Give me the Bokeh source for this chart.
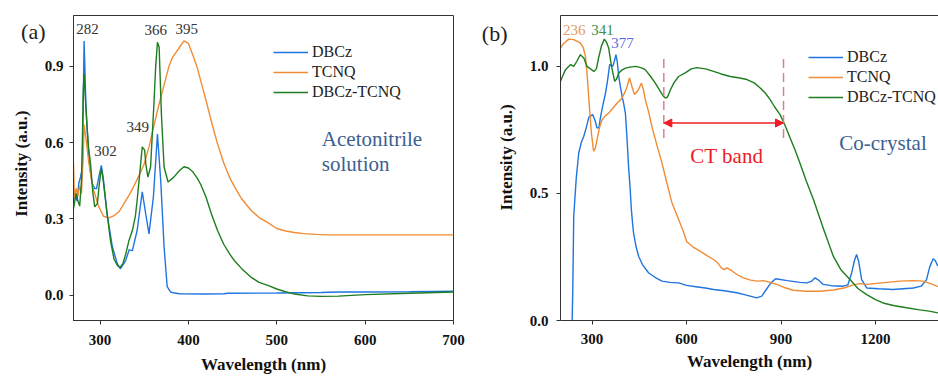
from bokeh.plotting import figure
from bokeh.layouts import row
from bokeh.models import (Legend, LegendItem, Label, FixedTicker, LinearAxis, CustomJSTickFormatter,
                          Range1d, Arrow, NormalHead, PrintfTickFormatter)
from bokeh.embed import file_html
from bokeh.resources import INLINE

# ---------------- data: panel (a) acetonitrile solution ----------------
wl_a_dbcz = [270, 272, 274, 276, 278, 280, 281, 282, 283, 284, 286, 288, 291, 294, 296, 299, 301.5, 304, 308, 314,
             319.6, 323, 329, 333, 336.6, 342, 347.8, 351.7, 355.4, 360.4, 365, 368.7, 372.5, 376, 380, 384, 390,
             420, 440, 445, 500, 550, 570, 600, 650, 700]
dbcz_a = [0.37, 0.40, 0.37, 0.44, 0.465, 0.50, 0.75, 1.0, 0.88, 0.75, 0.62, 0.52, 0.44, 0.42, 0.418, 0.47, 0.51, 0.45, 0.32, 0.19,
          0.123, 0.103, 0.136, 0.178, 0.175, 0.254, 0.406, 0.32, 0.241, 0.386, 0.634, 0.45, 0.19, 0.033, 0.012, 0.008, 0.005,
          0.004, 0.005, 0.007, 0.008, 0.010, 0.012, 0.012, 0.013, 0.015]

wl_a_tcnq = [270, 271, 273, 275, 277, 279, 281, 282, 284, 287, 290, 293, 298.7, 304, 310, 316, 322, 327, 334, 338, 344,
             350, 356, 361, 366, 372, 378, 382, 386, 390, 395, 400, 405, 410, 415, 420, 427, 433, 440, 447, 452,
             460, 471, 480, 490, 500, 510, 520, 530, 545, 560, 600, 650, 700]
tcnq_a = [0.52, 0.38, 0.42, 0.39, 0.43, 0.40, 0.55, 0.67, 0.62, 0.53, 0.46, 0.41, 0.347, 0.31, 0.304, 0.313, 0.33, 0.359, 0.40, 0.426, 0.47,
          0.516, 0.59, 0.667, 0.74, 0.82, 0.90, 0.935, 0.955, 0.975, 1.0, 0.99, 0.945, 0.895, 0.83, 0.765, 0.67, 0.595, 0.52, 0.46, 0.428,
          0.38, 0.333, 0.305, 0.285, 0.262, 0.252, 0.246, 0.242, 0.239, 0.237, 0.237, 0.237, 0.237]

wl_a_mix = [270, 273, 275, 277, 279, 280, 281, 282, 283, 285, 287, 289.3, 292, 294, 297, 299, 301.4, 303, 305, 308, 312,
            316, 320, 323, 326, 329, 332.8, 336.6, 340, 342, 345, 347.8, 350.5, 352, 354.2, 357.2, 361, 363, 365, 366.9,
            369.5, 372.5, 377, 383.8, 390, 395, 400, 405, 410, 414, 420, 426, 433, 440, 447, 452, 460, 471, 480, 490,
            500, 509, 520, 535, 550, 570, 600, 650, 700]
mix_a = [0.34, 0.40, 0.37, 0.35, 0.45, 0.60, 0.80, 0.87, 0.80, 0.68, 0.58, 0.516, 0.40, 0.347, 0.36, 0.43, 0.497, 0.47, 0.41, 0.32, 0.21,
         0.14, 0.115, 0.11, 0.125, 0.16, 0.215, 0.254, 0.31, 0.372, 0.48, 0.583, 0.57, 0.51, 0.464, 0.504, 0.752, 0.90, 0.995, 0.975,
         0.71, 0.504, 0.445, 0.465, 0.49, 0.505, 0.50, 0.485, 0.46, 0.435, 0.385, 0.32, 0.254, 0.20, 0.16, 0.136, 0.105, 0.07, 0.05, 0.038,
         0.024, 0.014, 0.004, -0.003, -0.005, -0.004, 0.002, 0.007, 0.012]

peaks_a = ["282", "302", "349", "366", "395"]
peaks_a_x = [285.9, 306.3, 342.6, 363, 398.2]
peaks_a_y = [1.047, 0.567, 0.662, 1.043, 1.047]

# ---------------- data: panel (b) co-crystal ----------------
wl_b_dbcz = [237, 239, 242, 250, 258, 266, 274, 282, 290, 302, 309, 316, 322, 327, 335, 343, 350, 356, 361, 366,
             371, 376, 380, 385, 390, 396, 401, 406, 411, 416, 421, 425, 429, 432, 440, 448, 460, 480, 500, 522,
             548, 575, 600, 630, 660, 686, 720, 760, 790, 823, 839, 852, 868, 883, 920, 960, 982, 998, 1008, 1018,
             1034, 1060, 1098, 1112, 1125, 1133, 1140, 1147, 1156, 1172, 1210, 1256, 1320, 1345, 1362, 1372, 1383,
             1390, 1398]
dbcz_b = [0.0, 0.12, 0.41, 0.56, 0.66, 0.70, 0.725, 0.76, 0.80, 0.81, 0.79, 0.757, 0.76, 0.80, 0.85, 0.895, 0.95, 1.007, 1.005, 1.0,
          1.02, 1.046, 1.02, 0.96, 0.92, 0.88, 0.85, 0.816, 0.72, 0.607, 0.52, 0.436, 0.38, 0.344, 0.29, 0.253, 0.22, 0.187, 0.17, 0.155,
          0.15, 0.148, 0.138, 0.133, 0.128, 0.122, 0.117, 0.109, 0.10, 0.089, 0.096, 0.12, 0.148, 0.164, 0.157, 0.15, 0.148, 0.155, 0.168, 0.16,
          0.142, 0.137, 0.135, 0.14, 0.19, 0.235, 0.26, 0.23, 0.161, 0.128, 0.125, 0.122, 0.128, 0.135, 0.161, 0.21, 0.243,
          0.235, 0.214]

wl_b_tcnq = [200, 210, 226, 242, 263, 272, 279, 285, 290, 298, 305, 310, 316, 324, 332, 342, 353, 366, 380, 392,
             401, 410, 419, 427, 435, 446, 457, 463, 469, 480, 490, 506, 522, 538, 554, 575, 590, 601, 620, 644,
             665, 686, 700, 712, 720, 728, 745, 760, 780, 804, 825, 844, 865, 886, 910, 939, 980, 1024, 1066, 1100,
             1129, 1150, 1172, 1220, 1277, 1320, 1351, 1375, 1398]
tcnq_b = [1.072, 1.09, 1.107, 1.105, 1.092, 1.075, 1.04, 0.96, 0.87, 0.738, 0.666, 0.675, 0.712, 0.76, 0.79, 0.805, 0.816, 0.835, 0.856, 0.87,
          0.889, 0.915, 0.954, 0.92, 0.889, 0.905, 0.934, 0.91, 0.87, 0.82, 0.764, 0.69, 0.62, 0.54, 0.462, 0.397, 0.35, 0.31, 0.29, 0.272,
          0.255, 0.24, 0.225, 0.205, 0.2, 0.207, 0.195, 0.181, 0.168, 0.159, 0.155, 0.157, 0.15, 0.142, 0.13, 0.119, 0.115, 0.115, 0.12, 0.128,
          0.14, 0.145, 0.142, 0.148, 0.155, 0.157, 0.155, 0.145, 0.133]

wl_b_mix = [200, 208, 216, 232, 242, 252, 263, 274, 284, 295, 306, 314, 321, 330, 339, 346, 353, 362, 372, 378,
            385, 395, 406, 420, 438, 455, 469, 485, 501, 515, 527, 533, 540, 549, 560, 575, 596, 615, 633, 660,
            686, 710, 739, 765, 792, 815, 834, 850, 865, 880, 897, 912, 929, 945, 960, 980, 1003, 1013, 1035, 1066,
            1090, 1119, 1145, 1172, 1200, 1224, 1260, 1299, 1340, 1370, 1398]
mix_b = [0.941, 0.965, 0.987, 1.007, 1.0, 1.02, 1.046, 1.033, 1.0, 0.99, 0.98, 0.99, 1.033, 1.08, 1.107, 1.095, 1.072, 1.0, 0.941, 0.95,
         0.974, 0.985, 0.993, 0.997, 1.0, 0.995, 0.987, 0.962, 0.934, 0.905, 0.882, 0.875, 0.88, 0.908, 0.935, 0.96, 0.974, 0.99, 0.995, 0.99,
         0.98, 0.97, 0.96, 0.955, 0.948, 0.935, 0.915, 0.895, 0.87, 0.84, 0.81, 0.77, 0.718, 0.67, 0.62, 0.55, 0.476, 0.44, 0.36, 0.253,
         0.2, 0.161, 0.125, 0.102, 0.082, 0.069, 0.058, 0.05, 0.042, 0.037, 0.03]

peaks_b = ["236", "341", "377"]
peaks_b_x = [244, 333, 396.5]
peaks_b_y = [1.142, 1.142, 1.09]

ct_band = [528, 908]      # CT band edges (nm)
ct_dash_y = [0.718, 1.04]
ct_arrow_y = 0.777

series_names = ["DBCz", "TCNQ", "DBCz-TCNQ"]
x_title = "Wavelength (nm)"
y_title = "Intensity (a.u.)"

# ---------------- style ----------------
FONT = "Liberation Serif"
BLUE = "#1f74e0"
ORANGE = "#f08c35"
GREEN = "#1e7d1e"
AX = "#333333"
NOTE = "#3c6090"
NBSP = "\u00a0"


def style_axes(p, xticks, yticks, xstand, ystand, xtitle_stand):
    p.xgrid.grid_line_color = None
    p.ygrid.grid_line_color = None
    for ax in (p.xaxis[0], p.yaxis[0]):
        ax.axis_line_color = AX
        ax.major_tick_line_color = AX
        ax.major_tick_out = 4
        ax.major_tick_in = 0
        ax.minor_tick_line_color = None
        ax.major_label_text_font = FONT
        ax.major_label_text_font_size = "15px"
        ax.major_label_text_font_style = "bold"
        ax.major_label_text_color = "#111111"
        ax.axis_label_text_font = FONT
        ax.axis_label_text_font_size = "17px"
        ax.axis_label_text_font_style = "bold"
        ax.axis_label_text_color = "#111111"
    p.xaxis[0].ticker = FixedTicker(ticks=xticks)
    p.yaxis[0].ticker = FixedTicker(ticks=yticks)
    p.yaxis[0].formatter = PrintfTickFormatter(format="%.1f")
    p.xaxis[0].formatter = PrintfTickFormatter(format="%d")
    p.xaxis[0].major_label_standoff = xstand
    p.yaxis[0].major_label_standoff = ystand
    p.xaxis[0].axis_label = x_title
    p.xaxis[0].axis_label_standoff = xtitle_stand


def add_outer_left(p, tick_y, tag, tag_stand, title_stand, pad):
    # outer left axis: carries the panel tag "(a)/(b)" and the y title
    ax = LinearAxis(ticker=FixedTicker(ticks=[tick_y]),
                    formatter=CustomJSTickFormatter(code="return '%s'" % tag),
                    axis_line_color=None, major_tick_line_color=None, minor_tick_line_color=None,
                    major_tick_out=0, major_tick_in=0,
                    major_label_text_font=FONT, major_label_text_font_size="22px",
                    major_label_text_color="#222222", major_label_standoff=tag_stand,
                    axis_label=NBSP * pad + y_title, axis_label_standoff=title_stand,
                    axis_label_text_font=FONT, axis_label_text_font_size="17px",
                    axis_label_text_font_style="bold", axis_label_text_color="#111111")
    p.add_layout(ax, "left")


def add_legend(p, renderers, loc):
    items = [LegendItem(label=n, renderers=[r]) for n, r in zip(series_names, renderers)]
    lg = Legend(items=items, location=loc, label_text_font=FONT, label_text_font_size="16px",
                label_text_color="#222222", glyph_width=35, glyph_height=20, label_height=20,
                label_standoff=4, spacing=0, padding=0, margin=0,
                border_line_color=None, background_fill_alpha=0)
    p.add_layout(lg)


# ---------------- panel (a) ----------------
pa = figure(width=470, height=376, x_range=Range1d(270, 700), y_range=Range1d(-0.1, 1.1),
            output_backend="svg", toolbar_location=None,
            min_border_left=73, min_border_right=17, min_border_top=15, min_border_bottom=55)
pa.outline_line_color = AX
pa.outline_line_alpha = 1
style_axes(pa, [300, 400, 500, 600, 700], [0.0, 0.3, 0.6, 0.9], 10, 6, 7)
add_outer_left(pa, 1.039, "(a)", -4, -13, 2)

ra1 = pa.line(wl_a_dbcz, dbcz_a, line_color=BLUE, line_width=1.4)
ra2 = pa.line(wl_a_tcnq, tcnq_a, line_color=ORANGE, line_width=1.4)
ra3 = pa.line(wl_a_mix, mix_a, line_color=GREEN, line_width=1.4)
add_legend(pa, [ra1, ra2, ra3], (200, 218))

for t, x, y in zip(peaks_a, peaks_a_x, peaks_a_y):
    pa.add_layout(Label(x=x, y=y, text=t, text_font=FONT, text_font_size="15px", text_color="#333333",
                        text_align="center", text_baseline="middle"))
pa.add_layout(Label(x=551, y=0.614, text="Acetonitrile", text_font=FONT, text_font_size="21px",
                    text_color=NOTE, text_align="left", text_baseline="middle"))
pa.add_layout(Label(x=551, y=0.516, text="solution", text_font=FONT, text_font_size="21px",
                    text_color=NOTE, text_align="left", text_baseline="middle"))

# ---------------- panel (b) ----------------
pb = figure(width=468, height=376, x_range=Range1d(200, 1400), y_range=Range1d(0, 1.2),
            output_backend="svg", toolbar_location=None,
            min_border_left=90, min_border_right=0, min_border_top=15, min_border_bottom=55)
pb.outline_line_color = None
style_axes(pb, [300, 600, 900, 1200], [0.0, 0.5, 1.0], 9, 8, 5)
add_outer_left(pb, 1.13, "(b)", 19, -37, 5)
top = LinearAxis(ticker=FixedTicker(ticks=[]), axis_line_color=AX, major_tick_line_color=None,
                 minor_tick_line_color=None, major_label_text_font_size="0px")
pb.add_layout(top, "above")

rb1 = pb.line(wl_b_dbcz, dbcz_b, line_color=BLUE, line_width=1.4)
rb2 = pb.line(wl_b_tcnq, tcnq_b, line_color=ORANGE, line_width=1.4)
rb3 = pb.line(wl_b_mix, mix_b, line_color=GREEN, line_width=1.4)
add_legend(pb, [rb1, rb2, rb3], (248, 213))

for xc in ct_band:
    pb.line([xc, xc], ct_dash_y, line_color="#d9808a", line_width=1.5, line_dash="9 5")
pb.add_layout(Arrow(x_start=ct_band[0], y_start=ct_arrow_y, x_end=ct_band[1], y_end=ct_arrow_y,
                    line_color="#ee1c24", line_width=1.5,
                    start=NormalHead(size=8, fill_color="#ee1c24", line_color="#ee1c24"),
                    end=NormalHead(size=8, fill_color="#ee1c24", line_color="#ee1c24")))

peak_b_colors = ["#e49a62", "#3f8f3f", "#5a6be0"]
for t, x, y, c in zip(peaks_b, peaks_b_x, peaks_b_y, peak_b_colors):
    pb.add_layout(Label(x=x, y=y, text=t, text_font=FONT, text_font_size="15px", text_color=c,
                        text_align="center", text_baseline="middle"))
pb.add_layout(Label(x=728, y=0.646, text="CT band", text_font=FONT, text_font_size="21px",
                    text_color="#ee1c24", text_align="center", text_baseline="middle"))
pb.add_layout(Label(x=1085, y=0.70, text="Co-crystal", text_font=FONT, text_font_size="21px",
                    text_color=NOTE, text_align="left", text_baseline="middle"))

layout = row(pa, pb)
open("out.html", "w").write(file_html(layout, INLINE))
